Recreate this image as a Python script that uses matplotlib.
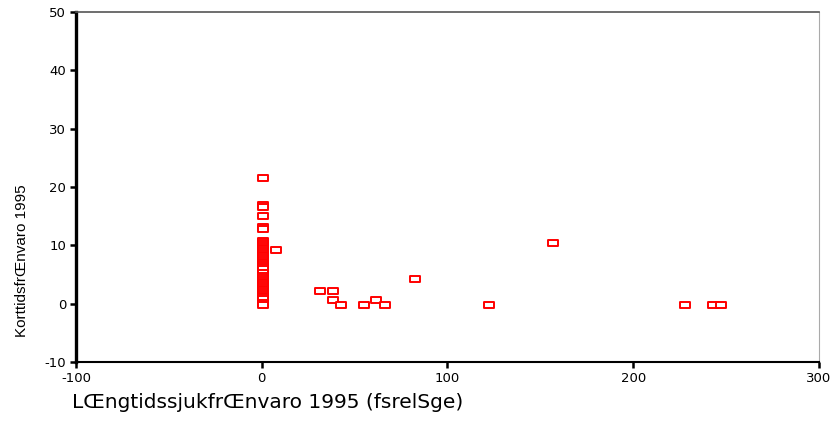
import matplotlib.pyplot as plt
from matplotlib.path import Path

# Short-term vs long-term sick leave 1995
col_x = 0.7
col_y = [21.5, 17, 16.6, 15, 13.1, 12.8,
         10.8, 10.5, 10.2, 9.9, 9.6, 9.3, 9.0, 8.7, 8.4, 8.1, 7.8, 7.5, 7.2,
         6.9, 6.6, 6.3, 6.0, 5.2, 4.7, 4.4, 4.1, 3.8, 3.5, 3.2, 2.9, 2.6,
         2.3, 2.0, 1.7, 1.4, 1.1, 0.8, 0.2, -0.3]

other_x = [7.5, 31.5, 38.5, 38.5, 42.5, 55, 61.7, 66.5, 82.7, 122.4, 156.6, 227.8, 243, 247]
other_y = [9.2, 2.2, 2.2, 0.7, -0.3, -0.3, 0.7, -0.3, 4.3, -0.3, 10.4, -0.3, -0.3, -0.3]

xs = [col_x] * len(col_y) + other_x
ys = col_y + other_y

xticks = [-100, 0, 100, 200, 300]
yticks = [-10, 0, 10, 20, 30, 40, 50]

# wide flat rectangle marker
rect = Path([(-1, -0.55), (1, -0.55), (1, 0.55), (-1, 0.55), (-1, -0.55)],
            [Path.MOVETO, Path.LINETO, Path.LINETO, Path.LINETO, Path.CLOSEPOLY])

fig = plt.figure(figsize=(8.33, 4.29), dpi=100)
ax = fig.add_axes([0.0912, 0.156, 0.892, 0.816])

ax.plot(xs, ys, linestyle="none", marker=rect, markersize=7.6,
        markerfacecolor="white", markeredgecolor="#ff0000", markeredgewidth=1.4)

ax.set_xlim(-100, 300)
ax.set_ylim(-10, 50)
ax.set_xticks(xticks)
ax.set_yticks(yticks)
ax.set_xticklabels([str(t) for t in xticks], fontsize=9.5, family="DejaVu Sans")
ax.set_yticklabels([str(t) for t in yticks], fontsize=9.5, family="DejaVu Sans")
ax.tick_params(direction="out", length=4, width=1.8, color="black", pad=3)

ax.spines["left"].set_linewidth(2.4)
ax.spines["bottom"].set_linewidth(1.5)
ax.spines["top"].set_linewidth(1.2)
ax.spines["top"].set_color("#555555")
ax.spines["right"].set_linewidth(0.8)
ax.spines["right"].set_color("#aaaaaa")

ax.set_ylabel("KorttidsfrŒnvaro 1995", fontsize=11, family="Liberation Sans")
ax.yaxis.set_label_coords(-0.063, 0.289)

fig.text(72 / 833, 1 - 403 / 429, "LŒngtidssjukfrŒnvaro 1995 (fsrelSge)",
         fontsize=14.5, family="DejaVu Sans", ha="left", va="center")

fig.savefig("out.png", dpi=100)
